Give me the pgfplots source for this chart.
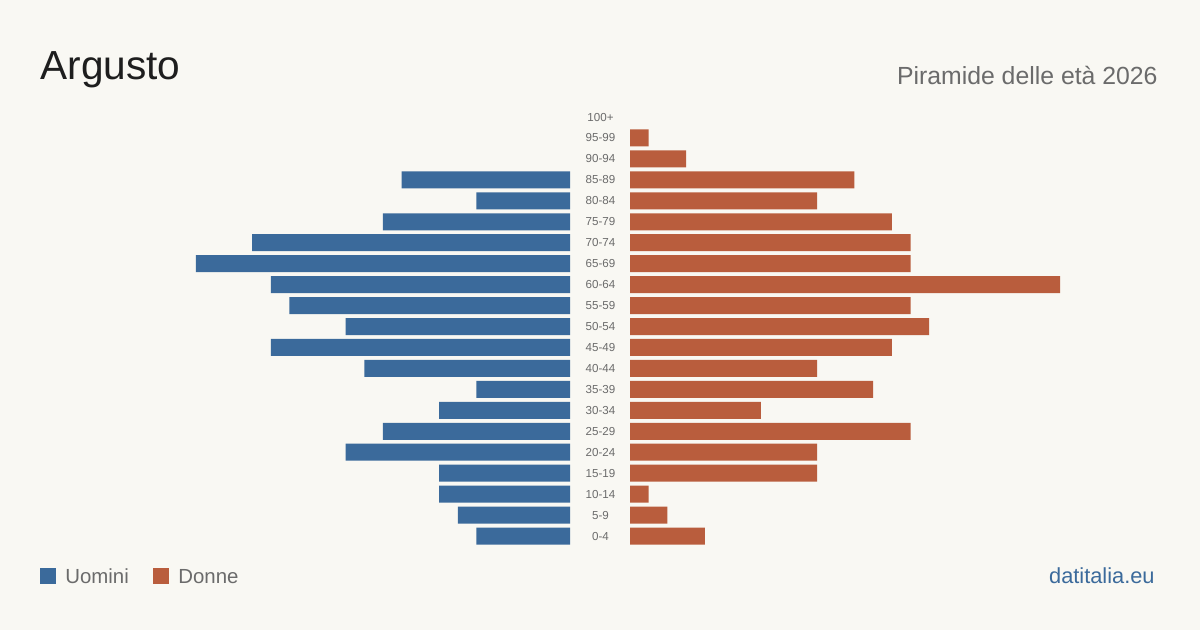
\documentclass[border=0pt]{standalone}
\usepackage{pgfplots}
\pgfplotsset{compat=1.18}
\usepackage{pgfplotstable}
\usepackage{fontspec}
\setmainfont{Liberation Sans}

\definecolor{bgc}{HTML}{F9F8F3}
\definecolor{men}{HTML}{3B6A9B}
\definecolor{women}{HTML}{B95D3D}
\definecolor{txtgray}{HTML}{6B6B6B}
\definecolor{titlec}{HTML}{1E1E1E}

% age classes: 0 = 0-4 ... 20 = 100+
\pgfplotstableread{
idx men women
0   5   4
1   6   2
2   7   1
3   7   10
4   12  10
5   10  15
6   7   7
7   5   13
8   11  10
9   16  14
10  12  16
11  15  15
12  16  23
13  20  15
14  17  15
15  10  14
16  5   10
17  9   12
18  0   3
19  0   1
20  0   0
}\pyramid

\begin{document}
\begin{tikzpicture}
\useasboundingbox (0,0) rectangle (600pt,315pt);
\fill[bgc] (0,0) rectangle (600pt,315pt);

\pgfplotsset{
  pyr/.style={
    xbar, bar width=8.5pt,
    x=9.35pt, y=10.475pt,
    ymin=-0.5, ymax=20.5,
    axis line style={draw=none},
    tick style={draw=none},
    xtick=\empty,
    clip=false,
    % empty classes get no bar at all
    restrict x to domain=0.5:100,
  }
}

% men, growing to the left
\begin{axis}[pyr,
  at={(285pt,41.75pt)}, anchor=south east,
  x dir=reverse, xmin=0, xmax=25,
  ytick=\empty]
\addplot[fill=men, draw=none] table[x=men, y=idx] {\pyramid};
\end{axis}

% women, growing to the right, with the age classes in the middle
\begin{axis}[pyr,
  at={(315pt,41.75pt)}, anchor=south west,
  xmin=0, xmax=25,
  ytick={0,...,20},
  yticklabels={0-4,5-9,10-14,15-19,20-24,25-29,30-34,35-39,40-44,45-49,50-54,55-59,60-64,65-69,70-74,75-79,80-84,85-89,90-94,95-99,100+},
  yticklabel style={anchor=center, xshift=-10.5pt, inner sep=0pt,
    font=\fontsize{5.8}{7}\selectfont, text=txtgray}]
\addplot[fill=women, draw=none] table[x=women, y=idx] {\pyramid};
\end{axis}

% titles
\node[anchor=base west, inner sep=0pt, text=titlec,
  font=\fontsize{20.3}{24}\selectfont] at (20pt,275pt) {Argusto};
\node[anchor=base east, inner sep=0pt, text=txtgray,
  font=\fontsize{12.4}{15}\selectfont] at (579pt,272.85pt) {Piramide delle età 2026};

% legend
\fill[men] (20pt,23.15pt) rectangle (27.85pt,31pt);
\node[anchor=base west, inner sep=0pt, text=txtgray,
  font=\fontsize{10.2}{12}\selectfont] at (32.5pt,23.35pt) {Uomini};
\fill[women] (76.5pt,23.15pt) rectangle (84.35pt,31pt);
\node[anchor=base west, inner sep=0pt, text=txtgray,
  font=\fontsize{10.2}{12}\selectfont] at (89pt,23.35pt) {Donne};

% source
\node[anchor=base east, inner sep=0pt, text=men,
  font=\fontsize{10.9}{13}\selectfont] at (577.5pt,23.35pt) {datitalia.eu};
\end{tikzpicture}
\end{document}
